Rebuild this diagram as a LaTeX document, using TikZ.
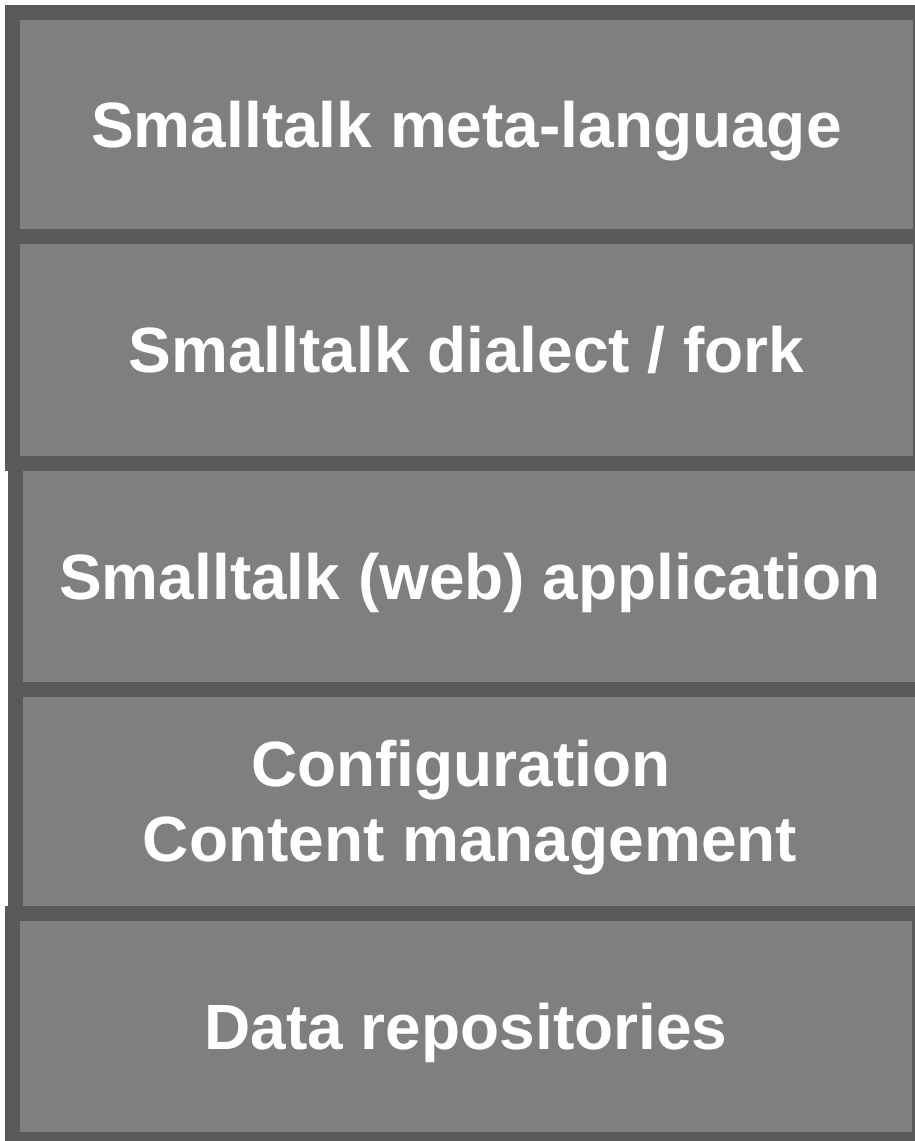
\documentclass[tikz,border=0pt]{standalone}
\usepackage{fontspec}
\setmainfont{Liberation Sans}
\definecolor{layerfill}{HTML}{7F7F7F}
\definecolor{layerline}{HTML}{595959}
\tikzset{
  layer/.style={draw=layerline, fill=layerfill, line width=15pt,
    rectangle, inner sep=0pt, align=center, text=white,
    font=\fontsize{64}{75}\selectfont\bfseries},
  flat/.style={text depth=0pt},
}
\begin{document}
\begin{tikzpicture}
\useasboundingbox[fill=white] (0pt,0pt) rectangle (915pt,-1141pt);
% stacked layers, top to bottom
\node[layer, flat, minimum width=908pt, minimum height=224pt] (meta) at (466.5pt,-124.5pt) {Smalltalk meta-language};
\node[layer, minimum width=908pt, minimum height=226.5pt] (dialect) at (466.5pt,-349.75pt) {Smalltalk dialect / fork};
\node[layer, flat, minimum width=910pt, minimum height=226pt] (app) at (470pt,-576pt) {Smalltalk (web) application};
\node[layer, flat, minimum width=910pt, minimum height=224pt] (config) at (470pt,-801pt) {Configuration\rule{18pt}{0pt}\\Content management};
\node[layer, flat, minimum width=907pt, minimum height=226.5pt] (data) at (466pt,-1026.25pt) {Data repositories};
\end{tikzpicture}
\end{document}
